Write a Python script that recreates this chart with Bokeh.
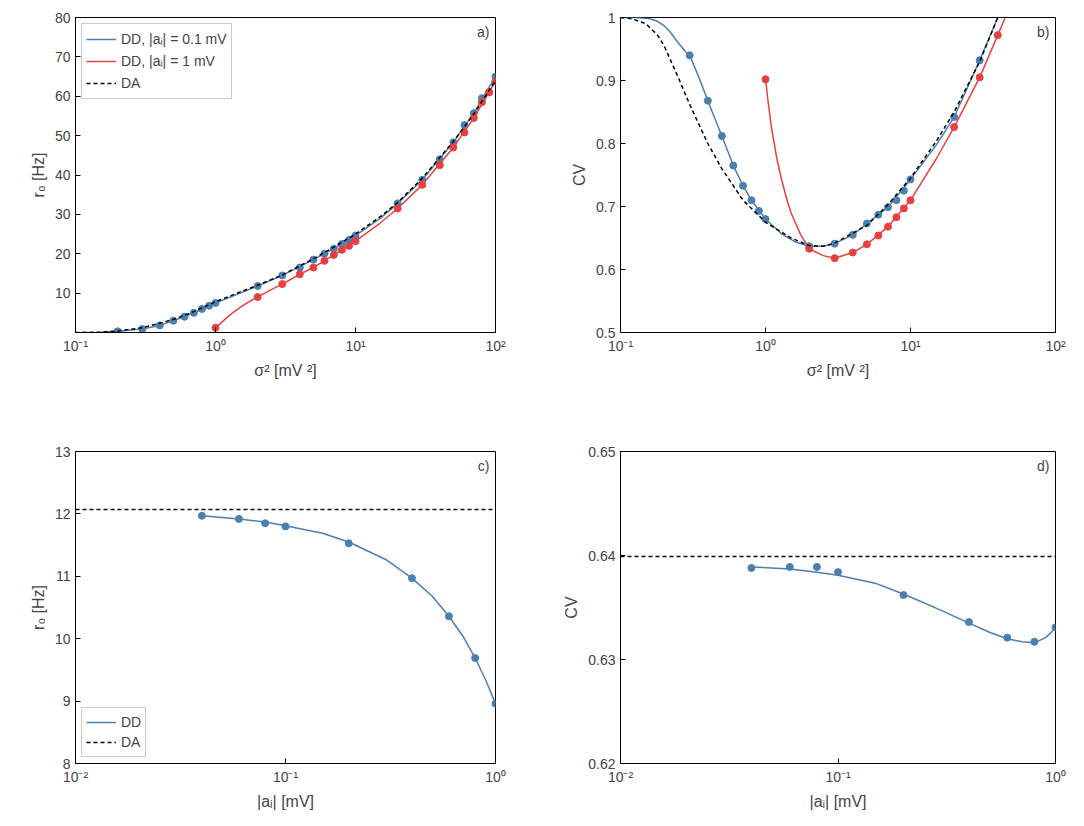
from bokeh.plotting import figure
from bokeh.models import FixedTicker, Legend, LegendItem, Label, Range1d
from bokeh.layouts import gridplot
from bokeh.embed import file_html
from bokeh.resources import INLINE

BLUE = "#4a7fb0"
RED = "#e8403f"
FONT = "Liberation Sans"

# panel a: r0 vs sigma^2
a_blue_x = [0.2, 0.3, 0.4, 0.5, 0.6, 0.7, 0.8, 0.9, 1, 2, 3, 4, 5, 6, 7, 8, 9, 10, 20, 30, 40, 50, 60, 70, 80, 90, 100]
a_blue_y = [0.3, 0.9, 1.8, 3.0, 4.0, 5.0, 6.0, 6.8, 7.5, 11.8, 14.5, 16.5, 18.5, 20.0, 21.3, 22.5, 23.5, 24.6, 32.8, 38.8, 44.0, 48.3, 52.7, 55.7, 59.5, 61.0, 65.0]
a_red_x = [1, 2, 3, 4, 5, 6, 7, 8, 9, 10, 20, 30, 40, 50, 60, 70, 80, 90, 100]
a_red_y = [1.2, 9.0, 12.3, 14.8, 16.5, 18.2, 19.7, 21.0, 22.0, 23.2, 31.5, 37.5, 42.5, 47.0, 50.8, 54.5, 58.5, 61.0, 63.8]
a_blue_line_x = [0.15, 0.2, 0.3, 0.4, 0.5, 0.7, 1, 1.5, 2, 3, 5, 7, 10, 15, 20, 30, 50, 70, 100]
a_blue_line_y = [0.05, 0.3, 0.9, 1.8, 3.0, 5.0, 7.5, 10.0, 11.8, 14.5, 18.5, 21.3, 24.6, 29.0, 32.8, 38.8, 48.3, 55.7, 65.0]
a_red_line_x = [1, 1.1, 1.2, 1.35, 1.5, 1.75, 2, 2.5, 3, 4, 5, 7, 10, 15, 20, 30, 50, 70, 100]
a_red_line_y = [1.2, 2.5, 3.7, 5.2, 6.4, 7.9, 9.0, 10.9, 12.3, 14.8, 16.5, 19.7, 23.2, 27.8, 31.5, 37.5, 47.0, 54.5, 63.8]
a_da_x = [0.1, 0.15, 0.2, 0.3, 0.5, 0.7, 1, 1.5, 2, 3, 5, 7, 10, 15, 20, 30, 50, 70, 100]
a_da_y = [0.0, 0.1, 0.4, 1.2, 3.3, 5.3, 7.8, 10.3, 12.0, 14.6, 18.7, 21.7, 25.0, 29.4, 33.0, 39.2, 48.5, 55.5, 64.0]

# panel b: CV vs sigma^2
b_blue_x = [0.3, 0.4, 0.5, 0.6, 0.7, 0.8, 0.9, 1, 2, 3, 4, 5, 6, 7, 8, 9, 10, 20, 30]
b_blue_y = [0.94, 0.868, 0.812, 0.765, 0.733, 0.71, 0.693, 0.68, 0.637, 0.641, 0.655, 0.673, 0.687, 0.699, 0.71, 0.725, 0.743, 0.842, 0.932]
b_blue_line_x = [0.1, 0.13, 0.16, 0.18, 0.2, 0.22, 0.25, 0.28, 0.3, 0.35, 0.4, 0.5, 0.6, 0.7, 0.8, 1, 1.3, 1.6, 2, 2.5, 3, 4, 5, 7, 10, 15, 20, 30, 40]
b_blue_line_y = [1.0, 1.0, 0.998, 0.994, 0.987, 0.977, 0.96, 0.946, 0.94, 0.903, 0.868, 0.812, 0.765, 0.733, 0.71, 0.68, 0.656, 0.644, 0.637, 0.637, 0.641, 0.655, 0.673, 0.699, 0.743, 0.797, 0.842, 0.932, 1.0]
b_red_x = [1, 2, 3, 4, 5, 6, 7, 8, 9, 10, 20, 30, 40]
b_red_y = [0.902, 0.633, 0.618, 0.627, 0.64, 0.654, 0.668, 0.683, 0.697, 0.71, 0.826, 0.905, 0.972]
b_red_line_x = [1, 1.05, 1.1, 1.2, 1.3, 1.4, 1.5, 1.75, 2, 2.5, 3, 4, 5, 7, 10, 15, 20, 30, 40, 45]
b_red_line_y = [0.902, 0.86, 0.825, 0.775, 0.74, 0.712, 0.69, 0.655, 0.633, 0.622, 0.618, 0.627, 0.64, 0.668, 0.71, 0.775, 0.826, 0.905, 0.972, 1.0]
b_da_x = [0.1, 0.12, 0.15, 0.18, 0.2, 0.25, 0.3, 0.4, 0.5, 0.7, 1, 1.5, 2, 2.5, 3, 5, 7, 10, 15, 20, 30, 40]
b_da_y = [1.0, 0.998, 0.99, 0.972, 0.955, 0.905, 0.862, 0.8, 0.76, 0.71, 0.675, 0.65, 0.638, 0.637, 0.642, 0.67, 0.703, 0.745, 0.803, 0.85, 0.93, 1.0]

# panel c and d: vs |a_i|
ai = [0.04, 0.06, 0.08, 0.1, 0.2, 0.4, 0.6, 0.8, 1.0]
c_r0 = [11.97, 11.92, 11.85, 11.8, 11.53, 10.97, 10.36, 9.69, 8.96]
c_line_x = [0.04, 0.06, 0.08, 0.1, 0.15, 0.2, 0.3, 0.4, 0.5, 0.6, 0.7, 0.8, 0.9, 1.0]
c_line_y = [11.97, 11.92, 11.87, 11.81, 11.69, 11.55, 11.27, 10.97, 10.68, 10.36, 10.04, 9.69, 9.33, 8.96]
c_da = 12.07
d_cv = [0.6388, 0.6389, 0.6389, 0.6384, 0.6362, 0.6336, 0.6321, 0.6317, 0.6331]
d_line_x = [0.04, 0.06, 0.08, 0.1, 0.15, 0.2, 0.3, 0.4, 0.5, 0.6, 0.7, 0.8, 0.9, 1.0]
d_line_y = [0.6389, 0.6387, 0.6384, 0.6381, 0.6373, 0.6363, 0.6347, 0.6335, 0.6326, 0.6320, 0.6317, 0.6316, 0.6321, 0.6330]
d_da = 0.6399


def make(xr, yr, yticks, xticks, xlabels, xlab, ylab, tag, left, top, right, bottom, fw, fh):
    p = figure(x_axis_type="log", x_range=Range1d(*xr), y_range=Range1d(*yr),
               frame_width=fw, frame_height=fh, output_backend="svg", toolbar_location=None,
               min_border_left=left, min_border_top=top, min_border_right=right, min_border_bottom=bottom)
    p.xgrid.visible = False
    p.ygrid.visible = False
    p.outline_line_color = "black"
    p.xaxis.ticker = FixedTicker(ticks=xticks)
    p.xaxis.major_label_overrides = dict(zip(xticks, xlabels))
    p.yaxis.ticker = FixedTicker(ticks=yticks)
    for ax in (p.xaxis, p.yaxis):
        ax.minor_tick_line_color = None
        ax.major_tick_in = 5
        ax.major_tick_out = 0
        ax.major_label_text_font = FONT
        ax.major_label_text_font_size = "14px"
        ax.axis_label_text_font = FONT
        ax.axis_label_text_font_size = "16px"
        ax.axis_label_text_font_style = "normal"
    p.xaxis.axis_label = xlab
    p.yaxis.axis_label = ylab
    p.add_layout(Label(x=fw - 6, y=fh - 6, x_units="screen", y_units="screen", text=tag,
                       text_align="right", text_baseline="top", text_font=FONT, text_font_size="14px"))
    return p


dec = [0.1, 1, 10, 100]
declab = ["10⁻¹", "10⁰", "10¹", "10²"]
pa = make((0.1, 100), (0, 80), [10, 20, 30, 40, 50, 60, 70, 80], dec, declab,
          "σ² [mV ²]", "r₀ [Hz]", "a)", 75, 17, 60, 86, 420, 315)
l1 = pa.line(a_blue_line_x, a_blue_line_y, line_color=BLUE, line_width=1.5)
pa.scatter(a_blue_x, a_blue_y, size=7, color=BLUE)
l2 = pa.line(a_red_line_x, a_red_line_y, line_color=RED, line_width=1.5)
pa.scatter(a_red_x, a_red_y, size=7, color=RED)
l3 = pa.line(a_da_x, a_da_y, line_color="black", line_width=1.5, line_dash="4 3")
lega = Legend(items=[LegendItem(label="DD, |aᵢ| = 0.1 mV", renderers=[l1]),
                     LegendItem(label="DD, |aᵢ| = 1 mV", renderers=[l2]),
                     LegendItem(label="DA", renderers=[l3])],
              location="top_left", border_line_color="#999999", label_text_font=FONT,
              label_text_font_size="14px", glyph_width=30, spacing=0, padding=4,
              label_height=22, margin=6)
pa.add_layout(lega)

pb = make((0.1, 100), (0.5, 1.0), [0.5, 0.6, 0.7, 0.8, 0.9, 1.0], dec, declab,
          "σ² [mV ²]", "CV", "b)", 65, 17, 20, 86, 435, 315)
pb.line(b_blue_line_x, b_blue_line_y, line_color=BLUE, line_width=1.5)
pb.scatter(b_blue_x, b_blue_y, size=7, color=BLUE)
pb.line(b_red_line_x, b_red_line_y, line_color=RED, line_width=1.5)
pb.scatter(b_red_x, b_red_y, size=7, color=RED)
pb.line(b_da_x, b_da_y, line_color="black", line_width=1.5, line_dash="4 3")
pb.yaxis.major_label_overrides = {1.0: "1"}

dec2 = [0.01, 0.1, 1]
declab2 = ["10⁻²", "10⁻¹", "10⁰"]
pc = make((0.01, 1), (8, 13), [8, 9, 10, 11, 12, 13], dec2, declab2,
          "|aᵢ| [mV]", "r₀ [Hz]", "c)", 75, 33, 60, 10, 420, 312)
c1 = pc.line(c_line_x, c_line_y, line_color=BLUE, line_width=1.5)
pc.scatter(ai, c_r0, size=7, color=BLUE)
c2 = pc.line([0.01, 1], [c_da, c_da], line_color="black", line_width=1.5, line_dash="4 3")
legc = Legend(items=[LegendItem(label="DD", renderers=[c1]), LegendItem(label="DA", renderers=[c2])],
              location="bottom_left", border_line_color="#999999", label_text_font=FONT,
              label_text_font_size="14px", glyph_width=30, spacing=0, padding=4,
              label_height=18, margin=6)
pc.add_layout(legc)

pd = make((0.01, 1), (0.62, 0.65), [0.62, 0.63, 0.64, 0.65], dec2, declab2,
          "|aᵢ| [mV]", "CV", "d)", 65, 33, 20, 10, 435, 312)
pd.line(d_line_x, d_line_y, line_color=BLUE, line_width=1.5)
pd.scatter(ai, d_cv, size=7, color=BLUE)
pd.line([0.01, 1], [d_da, d_da], line_color="black", line_width=1.5, line_dash="4 3")

grid = gridplot([[pa, pb], [pc, pd]], toolbar_location=None)
open("out.html", "w").write(file_html(grid, INLINE))
